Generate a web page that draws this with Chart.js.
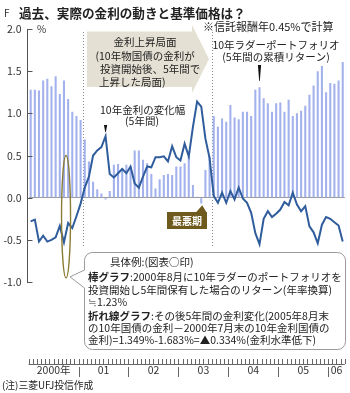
<!DOCTYPE html>
<html lang="ja">
<head>
<meta charset="utf-8">
<script src="https://cdn.jsdelivr.net/npm/chart.js@4.4.1/dist/chart.umd.min.js"></script>
<style>
  html, body { margin: 0; padding: 0; background: #fff; }
  canvas { display: block; }
</style>
</head>
<body>
<canvas id="rateChart" width="350" height="393"></canvas>
<script>
// 月次カテゴリ: 2000年1月～2006年4月
const startYear = 2000;
const monthCount = 76;
const months = [];
for (let i = 0; i < monthCount; i++) {
  const yy = startYear + Math.floor(i / 12);
  const mm = (i % 12) + 1;
  months.push(yy + '-' + String(mm).padStart(2, '0'));
}

// 年ラベルを置く月
const yearTickMonths = ['2000-07', '2001-07', '2002-07', '2003-07', '2004-07', '2005-07', '2006-03'];
const yearTickLabels = ['2000年', '01', '02', '03', '04', '05', '06'];
const yTicks = [-1.0, -0.5, 0, 0.5, 1.0, 1.5, 2.0];

// 棒: 10年ラダーの5年間累積リターン(年率, %)
const ladderReturn = [
  1.28, 1.28, 1.27, 1.39, 1.41, 1.32, 1.44, 1.23, 1.39, 1.17, 1.02, 0.97,
  0.92, 0.69, 0.43, 0.19, 0.10, 0.05, -0.02, 0.08, 0.39, 0.40, 0.35, 0.39,
  0.37, 0.56, 0.56, 0.45, 0.41, 0.28, 0.11, 0.22, 0.27, 0.28, 0.27, 0.37,
  0.37, 0.41, 0.49, 0.15, 0.01, -0.07, 0.33, 0.49, 0.97, 0.84, 0.94, 0.90,
  1.10, 0.95, 0.93, 1.02, 1.02, 0.97, 1.28, 1.31, 1.18, 1.12, 1.02, 1.12,
  1.13, 1.02, 1.16, 0.97, 1.00, 1.03, 1.09, 1.22, 1.33, 1.50, 1.56, 1.25,
  1.36, 1.35, 1.39, 1.61
];

// 折れ線: 10年金利の5年間の変化幅(%)
const rateChange = [
  -0.28, -0.26, -0.52, -0.45, -0.52, -0.50, -0.47, -0.334, -0.53, -0.30, -0.36, -0.22,
  -0.07, 0.12, 0.25, 0.50, 0.56, 0.60, 0.73, 0.28, 0.24, 0.29, 0.34, 0.29,
  0.37, 0.17, 0.12, 0.25, 0.37, 0.36, 0.48, 0.48, 0.49, 0.43, 0.61, 0.48,
  0.44, 0.64, 0.49, 0.84, 1.14, 1.08, 0.70, 0.47, 0.02, -0.06, 0.06, -0.06,
  0.08, -0.02, 0.12, -0.01, -0.06, -0.18, -0.42, -0.55, -0.25, -0.16, -0.23, -0.19,
  -0.14, -0.05, -0.09, 0.06, -0.08, -0.16, -0.10, -0.34, -0.41, -0.54, -0.32, -0.23,
  -0.25, -0.29, -0.33, -0.52
];

// 金利上昇局面の始まりと終わり
const risingStart = '2001-02';
const risingEnd = '2003-09';
const exampleMonth = '2000-08';
const worstMonth = '2003-06';
const ratePeakMonth = '2001-07';
const ladderPeakMonth = '2004-08';

const FONT = '"Noto Sans CJK JP", "Noto Sans", sans-serif';
const INK = '#222';

function text(ctx, str, x, y, size, opts = {}) {
  ctx.font = (opts.bold ? 'bold ' : '') + size + 'px ' + FONT;
  ctx.fillStyle = opts.color || INK;
  ctx.textAlign = opts.align || 'left';
  ctx.textBaseline = 'middle';
  ctx.fillText(str, x, y);
  return ctx.measureText(str).width;
}

// 太字の見出し + 本文
function richLine(ctx, head, body, x, y, size) {
  const w = text(ctx, head, x, y, size, { bold: true });
  text(ctx, body, x + w, y, size);
}

function wedge(ctx, x, top, bottom) {
  ctx.beginPath();
  ctx.moveTo(x - 1.6, top);
  ctx.lineTo(x + 1.6, top);
  ctx.lineTo(x + 0.3, bottom);
  ctx.lineTo(x - 0.3, bottom);
  ctx.closePath();
  ctx.fillStyle = '#111';
  ctx.fill();
}

const decorations = {
  id: 'decorations',
  beforeDatasetsDraw(chart) {
    const { ctx, scales: { x } } = chart;
    ctx.save();
    ctx.strokeStyle = '#8a8a8a';
    ctx.lineWidth = 1;
    ctx.setLineDash([1, 2]);
    [risingStart, risingEnd].forEach(m => {
      const px = Math.round(x.getPixelForValue(months.indexOf(m) - 0.5)) + 0.5;
      ctx.beginPath();
      ctx.moveTo(px, 32);
      ctx.lineTo(px, 246);
      ctx.stroke();
    });
    ctx.restore();
  },
  afterDatasetsDraw(chart) {
    const { ctx, chartArea, scales: { x, y } } = chart;
    ctx.save();

    // 縦軸と目盛り
    ctx.strokeStyle = '#555';
    ctx.lineWidth = 1;
    const ax = 27.5;
    ctx.beginPath();
    ctx.moveTo(ax, Math.round(y.getPixelForValue(2)));
    ctx.lineTo(ax, Math.round(y.getPixelForValue(-1)) + 1);
    yTicks.forEach(v => {
      const py = Math.round(y.getPixelForValue(v)) + 0.5;
      ctx.moveTo(ax, py);
      ctx.lineTo(ax + 5, py);
    });
    ctx.stroke();

    // 横軸の月目盛りと年の区切り
    const base = chartArea.bottom;
    ctx.strokeStyle = '#666';
    ctx.beginPath();
    for (let i = 0; i <= months.length; i++) {
      const px = Math.round(x.getPixelForValue(i - 0.5)) + 0.5;
      ctx.moveTo(px, base + 1);
      ctx.lineTo(px, base + 6);
      if (i > 0 && i % 12 === 0) {
        ctx.moveTo(px, base + 9);
        ctx.lineTo(px, base + 19);
      }
    }
    ctx.moveTo(x.getPixelForValue(-0.5), base + 6.5);
    ctx.lineTo(x.getPixelForValue(months.length - 0.5), base + 6.5);
    ctx.stroke();

    // タイトルと注記
    text(ctx, 'F', 4, 13, 10, { color: '#333' });
    text(ctx, '過去、実際の金利の動きと基準価格は？', 19, 13, 12.6, { bold: true });
    text(ctx, '%', 37, 29, 10, { color: '#333' });
    text(ctx, '※信託報酬年0.45%で計算', 203, 26.5, 11);
    text(ctx, '(注)三菱UFJ投信作成', 2, 385, 9.8);

    // 金利上昇局面の矢印
    ctx.beginPath();
    ctx.moveTo(87, 31.5);
    ctx.lineTo(192, 31.5);
    ctx.lineTo(192, 25);
    ctx.lineTo(209, 59);
    ctx.lineTo(192, 93);
    ctx.lineTo(192, 87);
    ctx.lineTo(87, 87);
    ctx.closePath();
    ctx.fillStyle = '#e5e0d4';
    ctx.fill();
    text(ctx, '金利上昇局面', 145, 42, 10.5, { align: 'center' });
    text(ctx, '(', 99, 56, 10.5, { align: 'right' });
    text(ctx, '10年物国債の金利が', 99, 56, 10.5);
    text(ctx, '投資開始後、5年間で', 100, 69.5, 10.5);
    text(ctx, '上昇した局面)', 99, 82.5, 10.5);

    // 系列の説明と目印
    text(ctx, '10年ラダーポートフォリオ', 276, 45, 10.5, { align: 'center' });
    text(ctx, '(5年間の累積リターン)', 276, 57.5, 10.5, { align: 'center' });
    wedge(ctx, x.getPixelForValue(months.indexOf(ladderPeakMonth)), 65, 81);
    text(ctx, '10年金利の変化幅', 100, 110, 10.5);
    text(ctx, '(5年間)', 142, 121.5, 10.5, { align: 'center' });
    wedge(ctx, x.getPixelForValue(months.indexOf(ratePeakMonth)), 125, 132);

    // 最悪期
    const wx = x.getPixelForValue(months.indexOf(worstMonth));
    ctx.fillStyle = '#6d5a1c';
    ctx.beginPath();
    ctx.moveTo(167, 212);
    ctx.lineTo(wx - 5, 212);
    ctx.lineTo(wx + 1, y.getPixelForValue(-0.09));
    ctx.lineTo(wx + 5, 212);
    ctx.lineTo(207, 212);
    ctx.lineTo(207, 229);
    ctx.lineTo(167, 229);
    ctx.closePath();
    ctx.fill();
    text(ctx, '最悪期', 187, 221, 10, { bold: true, color: '#fff', align: 'center' });

    // 具体例の印
    const ex = x.getPixelForValue(months.indexOf(exampleMonth) + 1.5);
    const ovalTop = y.getPixelForValue(0.5);
    const ovalBottom = y.getPixelForValue(-0.95);
    ctx.strokeStyle = '#8b7b35';
    ctx.lineWidth = 1.4;
    ctx.beginPath();
    ctx.ellipse(ex, (ovalTop + ovalBottom) / 2, 4.5, (ovalBottom - ovalTop) / 2, 0, 0, Math.PI * 2);
    ctx.stroke();

    // 吹き出し
    const bx0 = 84.5, by0 = 252.5, bx1 = 345.5, by1 = 349.5, r = 8;
    ctx.beginPath();
    ctx.moveTo(bx0 + r, by0);
    ctx.lineTo(bx1 - r, by0);
    ctx.arcTo(bx1, by0, bx1, by0 + r, r);
    ctx.lineTo(bx1, by1 - r);
    ctx.arcTo(bx1, by1, bx1 - r, by1, r);
    ctx.lineTo(bx0 + r, by1);
    ctx.arcTo(bx0, by1, bx0, by1 - r, r);
    ctx.lineTo(bx0, 288);
    ctx.lineTo(ex + 4, ovalBottom - 1);
    ctx.lineTo(bx0, 270);
    ctx.lineTo(bx0, by0 + r);
    ctx.arcTo(bx0, by0, bx0 + r, by0, r);
    ctx.closePath();
    ctx.fillStyle = '#fff';
    ctx.fill();
    ctx.strokeStyle = '#9a9a9a';
    ctx.lineWidth = 1;
    ctx.stroke();

    const fs = 10.5;
    text(ctx, '具体例:(図表○印)', 110, 262, fs);
    richLine(ctx, '棒グラフ', ':2000年8月に10年ラダーのポートフォリオを', 88, 277.5, fs);
    text(ctx, '投資開始し5年間保有した場合のリターン(年率換算)', 88, 290, fs);
    text(ctx, '≒1.23%', 88, 302.5, fs);
    richLine(ctx, '折れ線グラフ', ':その後5年間の金利変化(2005年8月末', 88, 316, fs);
    text(ctx, 'の10年国債の金利－2000年7月末の10年金利国債の', 88, 328, fs);
    text(ctx, '金利)=1.349%-1.683%=▲0.334%(金利水準低下)', 88, 340, fs);

    ctx.restore();
  }
};

const ctx = document.getElementById('rateChart').getContext('2d');

const rateChart = new Chart(ctx, {
  type: 'bar',
  data: {
    labels: months,
    datasets: [{
      type: 'line',
      label: '10年金利の変化幅',
      data: rateChange,
      borderColor: '#2f5c9c',
      borderWidth: 2,
      pointRadius: 0,
      tension: 0,
      order: 0
    }, {
      label: '10年ラダーポートフォリオ',
      data: ladderReturn,
      backgroundColor: '#a3b2ec',
      barPercentage: 0.5,
      categoryPercentage: 1.0,
      order: 1
    }]
  },
  options: {
    responsive: false,
    animation: false,
    devicePixelRatio: 1,
    layout: { padding: { top: 29, right: 5.2, left: 0, bottom: 0 } },
    plugins: {
      legend: { display: false },
      tooltip: { enabled: false }
    },
    scales: {
      x: {
        grid: { display: false, drawTicks: false },
        border: { display: false },
        afterFit: scale => { scale.height = 35; },
        ticks: {
          autoSkip: false,
          maxRotation: 0,
          padding: 6,
          labelOffset: -2,
          color: '#333',
          font: { family: FONT, size: 10.5 },
          callback: (v, i) => {
            const k = yearTickMonths.indexOf(months[i]);
            return k >= 0 ? yearTickLabels[k] : '';
          }
        }
      },
      y: {
        min: -1.9,
        max: 2.0,
        afterFit: scale => { scale.width = 28.6; },
        afterBuildTicks: scale => { scale.ticks = yTicks.map(v => ({ value: v })); },
        grid: {
          drawTicks: false,
          color: c => (c.tick && c.tick.value === 0 ? '#9a9a9a' : 'rgba(0,0,0,0)')
        },
        border: { display: false },
        ticks: {
          padding: 7,
          color: '#333',
          font: { family: FONT, size: 10.5 },
          callback: v => v.toFixed(1)
        }
      }
    }
  },
  plugins: [decorations]
});
</script>
</body>
</html>
